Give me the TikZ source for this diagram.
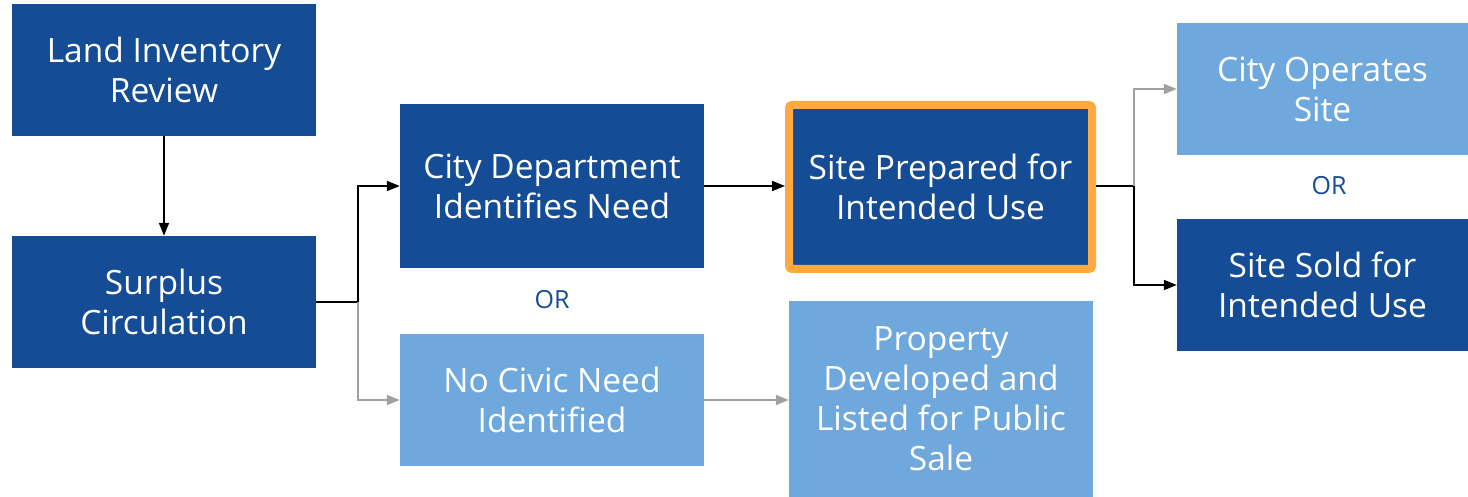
\documentclass[tikz,border=0pt]{standalone}
\usepackage{fontspec}
\setmainfont{Open Sans}
\usetikzlibrary{arrows.meta}
\definecolor{darkblue}{RGB}{21,76,150}
\definecolor{lightblue}{RGB}{111,168,220}
\definecolor{hlorange}{RGB}{255,169,64}
\definecolor{arrowgrey}{RGB}{160,160,160}
\begin{document}
\begin{tikzpicture}[x=1pt,y=-1pt,
    box/.style={fill=darkblue,text=white,align=center,inner sep=0pt,
        minimum width=304pt,minimum height=132pt,
        font=\fontsize{33.5}{40}\selectfont},
    lightbox/.style={box,fill=lightblue},
    ortext/.style={text=darkblue,font=\fontsize{25}{30}\selectfont},
    conn/.style={line width=1.8pt,-{Triangle[length=13pt,width=10pt]}},
    greyconn/.style={conn,draw=arrowgrey}]
        \useasboundingbox(0,0)rectangle(1468,497);
        % left column
        \node[box](land)at(164,70){Land Inventory\\Review};
        \node[box](surplus)at(164,302){Surplus\\Circulation};
        % second column
        \node[box,minimum height=164pt](citydept)at(552,186){City Department\\Identifies Need};
        \node[ortext](or1)at(552,300){OR};
        \node[lightbox](nocivic)at(552,400){No Civic Need\\Identified};
        % third column
        \node[box,minimum width=303pt,minimum height=164pt,draw=hlorange,line width=8pt,rounded corners=3pt](prepared)at(940.5,187){Site Prepared for\\Intended Use};
        \node[lightbox,minimum height=196pt](property)at(941,399){Property\\Developed and\\Listed for Public\\Sale};
        % right column
        \node[lightbox,minimum width=291pt](operates)at(1322.5,89){City Operates\\Site};
        \node[ortext](or2)at(1329,186){OR};
        \node[box,minimum width=291pt](sold)at(1322.5,285){Site Sold for\\Intended Use};
        % connectors
        \coordinate(split1)at(358,302);
        \coordinate(split2)at(1134,186);
        \draw[conn](land)--(surplus);
        \draw[line width=1.8pt](surplus.east)--(split1);
        \draw[conn](split1)|-(citydept.west);
        \draw[greyconn](split1)|-(nocivic.west);
        \draw[conn](citydept.east)--(citydept.east-|prepared.west);
        \draw[greyconn](nocivic.east)--(nocivic.east-|property.west);
        \draw[line width=1.8pt](prepared.east|-split2)--(split2);
        \draw[greyconn](split2)|-(operates.west);
        \draw[conn](split2)|-(sold.west);
\end{tikzpicture}
\end{document}
